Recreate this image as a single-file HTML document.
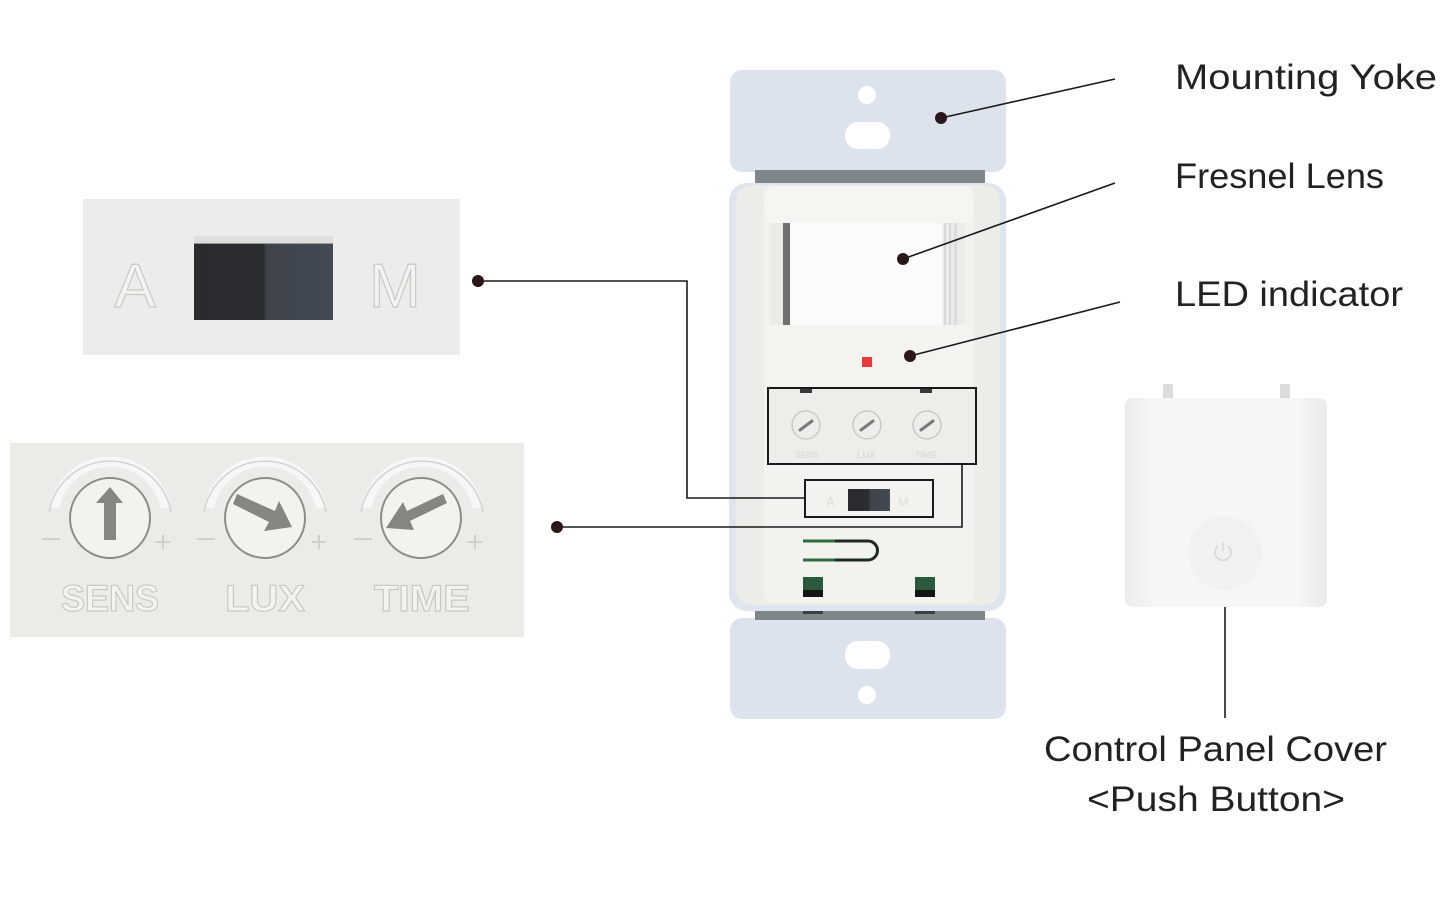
<!DOCTYPE html>
<html><head><meta charset="utf-8"><style>
html,body{margin:0;padding:0;background:#fff;}
svg{display:block;}
.lbl{font-family:"Liberation Sans","DejaVu Sans",sans-serif;fill:#222;}
.emb{font-family:"Liberation Sans","DejaVu Sans",sans-serif;font-weight:bold;fill:#f3f3f0;stroke:#c9c9c5;stroke-width:1.2;}
</style></head><body>
<svg width="1445" height="903" viewBox="0 0 1445 903" xmlns="http://www.w3.org/2000/svg">
<defs>
<linearGradient id="cov" x1="0" y1="0" x2="1" y2="0">
<stop offset="0" stop-color="#ececea"/><stop offset="0.15" stop-color="#f6f6f4"/><stop offset="0.85" stop-color="#f6f6f4"/><stop offset="1" stop-color="#eaeae8"/>
</linearGradient>
<linearGradient id="sw" x1="0" y1="0" x2="1" y2="0">
<stop offset="0" stop-color="#2a2b2f"/><stop offset="0.5" stop-color="#2c2d31"/><stop offset="0.52" stop-color="#3e434c"/><stop offset="1" stop-color="#444a54"/>
</linearGradient>
</defs>
<rect width="1445" height="903" fill="#fff"/>

<!-- ===== Device ===== -->
<!-- top plate -->
<rect x="730" y="70" width="276" height="102" rx="12" fill="#dde3ed"/>
<circle cx="867" cy="95" r="9" fill="#fff"/>
<rect x="845" y="122" width="45" height="27" rx="13" fill="#fff"/>
<!-- bottom plate -->
<rect x="730" y="618" width="276" height="101" rx="12" fill="#dde3ed"/>
<rect x="845" y="641" width="45" height="28" rx="13" fill="#fff"/>
<circle cx="867" cy="695" r="9" fill="#fff"/>
<!-- dark strips -->
<rect x="755" y="170" width="230" height="13" fill="#7d8789"/>
<rect x="755" y="609" width="230" height="11" fill="#7d8789"/>
<rect x="803" y="610" width="20" height="4" fill="#3a3f40"/>
<rect x="915" y="610" width="20" height="4" fill="#3a3f40"/>
<!-- body -->
<rect x="729" y="183" width="277" height="428" rx="18" fill="#dfe5ee"/>
<rect x="736" y="185" width="264" height="420" rx="16" fill="#ecece8"/>
<rect x="764" y="186" width="210" height="417" rx="8" fill="#f2f2ef"/>
<!-- top cap -->
<rect x="765" y="187" width="208" height="37" rx="10" fill="#f5f5f2"/>
<!-- lens window -->
<rect x="770" y="223" width="195" height="103" fill="#ebebe7"/>
<rect x="783" y="223" width="7" height="103" fill="#6f7070"/>
<rect x="790" y="223" width="152" height="103" fill="#fbfbfa"/>
<rect x="944" y="223" width="2" height="103" fill="#d8d8d6"/>
<rect x="949" y="223" width="2" height="103" fill="#d8d8d6"/>
<rect x="954" y="223" width="3" height="103" fill="#dcdcda"/>
<!-- lower housing -->
<rect x="765" y="325" width="208" height="66" rx="6" fill="#f3f3f0"/>
<rect x="862" y="357" width="10" height="10" fill="#e83a3a"/>
<!-- control area -->
<rect x="769" y="389" width="207" height="75" fill="#ededea"/>
<rect x="800" y="389" width="12" height="4" fill="#3a3a3a"/>
<rect x="920" y="389" width="12" height="4" fill="#3a3a3a"/>
<g fill="none" stroke="#c9c9c5" stroke-width="1.5">
<circle cx="806" cy="425" r="14"/><circle cx="867" cy="425" r="14"/><circle cx="927" cy="425" r="14"/>
</g>
<g stroke="#7a7a78" stroke-width="3" stroke-linecap="round">
<line x1="800" y1="430" x2="812" y2="421"/><line x1="861" y1="430" x2="873" y2="421"/><line x1="921" y1="430" x2="933" y2="421"/>
</g>
<g fill="#dcdcd8" font-family="Liberation Sans,sans-serif" font-size="9" font-weight="bold" text-anchor="middle">
<text x="807" y="458">SENS</text><text x="866" y="458">LUX</text><text x="926" y="458">TIME</text>
</g>
<!-- AM switch small -->
<rect x="848" y="489" width="42" height="22" fill="url(#sw)"/>
<text x="826" y="506" font-family="Liberation Sans,sans-serif" font-size="13" fill="#dedeDA">A</text>
<text x="898" y="506" font-family="Liberation Sans,sans-serif" font-size="13" fill="#dededa">M</text>
<!-- wire -->
<path d="M803 541 H868 A9.5 9.5 0 0 1 868 560 H803" fill="none" stroke="#1f2a22" stroke-width="3"/>
<line x1="803" y1="541" x2="835" y2="541" stroke="#2f6a3c" stroke-width="3"/>
<line x1="803" y1="560" x2="835" y2="560" stroke="#2f6a3c" stroke-width="3"/>
<!-- terminals -->
<rect x="803" y="577" width="20" height="20" fill="#2b5a3a"/>
<rect x="803" y="590" width="20" height="7" fill="#151515"/>
<rect x="915" y="577" width="20" height="20" fill="#2b5a3a"/>
<rect x="915" y="590" width="20" height="7" fill="#151515"/>

<!-- outline boxes -->
<rect x="768" y="388" width="208" height="76" fill="none" stroke="#1a1a1a" stroke-width="2"/>
<rect x="805" y="480" width="128" height="37" fill="none" stroke="#1a1a1a" stroke-width="2"/>

<!-- ===== Connectors ===== -->
<g stroke="#1a1a1a" stroke-width="1.6" fill="none">
<polyline points="478,281 687,281 687,498 805,498"/>
<polyline points="557,527 962,527 962,464"/>
<line x1="941" y1="118" x2="1115" y2="79"/>
<line x1="903" y1="259" x2="1115" y2="183"/>
<line x1="910" y1="356" x2="1120" y2="302"/>
<line x1="1225" y1="600" x2="1225" y2="718"/>
</g>
<g fill="#2a1818">
<circle cx="478" cy="281" r="6"/>
<circle cx="557" cy="527" r="6"/>
<circle cx="941" cy="118" r="6"/>
<circle cx="903" cy="259" r="6"/>
<circle cx="910" cy="356" r="6"/>
<circle cx="1225" cy="600" r="6"/>
</g>

<!-- ===== A/M panel ===== -->
<rect x="83" y="199" width="377" height="156" fill="#ececea"/>
<rect x="194" y="243" width="139" height="77" fill="url(#sw)"/>
<rect x="194" y="236" width="139" height="8" fill="#d6d6d4" opacity="0.6"/>
<text x="135" y="307" class="emb" font-size="62" font-weight="normal" text-anchor="middle" style="font-weight:normal">A</text>
<text x="395" y="307" class="emb" font-size="62" text-anchor="middle" style="font-weight:normal">M</text>

<!-- ===== Sensor panel ===== -->
<rect x="10" y="443" width="514" height="194" fill="#ebebe8"/>
<g fill="none" stroke="#f7f7f5" stroke-width="10">
<path d="M54 508 A57 57 0 0 1 166 508"/>
<path d="M209 508 A57 57 0 0 1 321 508"/>
<path d="M366 508 A57 57 0 0 1 478 508"/>
</g>
<g fill="none" stroke="#d2d2ce" stroke-width="1.5">
<path d="M49 512 A62 62 0 0 1 171 512"/>
<path d="M204 512 A62 62 0 0 1 326 512"/>
<path d="M361 512 A62 62 0 0 1 483 512"/>
</g>
<g fill="#f2f2ef" stroke="#8d8d88" stroke-width="2">
<circle cx="110" cy="518" r="40"/>
<circle cx="265" cy="518" r="40"/>
<circle cx="421" cy="518" r="40"/>
</g>
<g fill="#858582">
<polygon points="104,540 116,540 116,503 123,503 110,487 96,503 104,503"/>
<polygon points="233,504 237,494 275,511 279,501 292,527 264,531 269,522"/>
<polygon points="447,503 443,494 407,511 403,502 386,528 414,530 410,521"/>
</g>
<g stroke="#cfcfcb" stroke-width="2" fill="none">
<line x1="42" y1="539" x2="60" y2="539"/><line x1="156" y1="542" x2="170" y2="542"/><line x1="163" y1="535" x2="163" y2="549"/>
<line x1="197" y1="539" x2="215" y2="539"/><line x1="312" y1="542" x2="326" y2="542"/><line x1="319" y1="535" x2="319" y2="549"/>
<line x1="354" y1="539" x2="372" y2="539"/><line x1="468" y1="542" x2="482" y2="542"/><line x1="475" y1="535" x2="475" y2="549"/>
</g>
<text x="110" y="611" class="emb" font-size="37" text-anchor="middle" textLength="98" lengthAdjust="spacingAndGlyphs">SENS</text>
<text x="265" y="611" class="emb" font-size="37" text-anchor="middle" textLength="80" lengthAdjust="spacingAndGlyphs">LUX</text>
<text x="422" y="611" class="emb" font-size="37" text-anchor="middle" textLength="96" lengthAdjust="spacingAndGlyphs">TIME</text>

<!-- ===== Cover ===== -->
<rect x="1163" y="384" width="10" height="16" fill="#dcdcda"/>
<rect x="1280" y="384" width="10" height="16" fill="#dcdcda"/>
<rect x="1125" y="398" width="202" height="209" rx="8" fill="url(#cov)"/>
<circle cx="1225" cy="553" r="37" fill="#f1f1ef"/>
<path d="M1218 546 A8 8 0 1 0 1228 546" fill="none" stroke="#d6d6d4" stroke-width="1.5"/>
<line x1="1223" y1="542" x2="1223" y2="551" stroke="#d6d6d4" stroke-width="1.5"/>

<!-- ===== Labels ===== -->
<text x="1175" y="89" class="lbl" font-size="35" textLength="262" lengthAdjust="spacingAndGlyphs">Mounting Yoke</text>
<text x="1175" y="188" class="lbl" font-size="35" textLength="209" lengthAdjust="spacingAndGlyphs">Fresnel Lens</text>
<text x="1175" y="306" class="lbl" font-size="35" textLength="228" lengthAdjust="spacingAndGlyphs">LED indicator</text>
<text x="1044" y="761" class="lbl" font-size="35" textLength="343" lengthAdjust="spacingAndGlyphs">Control Panel Cover</text>
<text x="1087" y="811" class="lbl" font-size="35" textLength="258" lengthAdjust="spacingAndGlyphs">&lt;Push Button&gt;</text>
</svg>
</body></html>
